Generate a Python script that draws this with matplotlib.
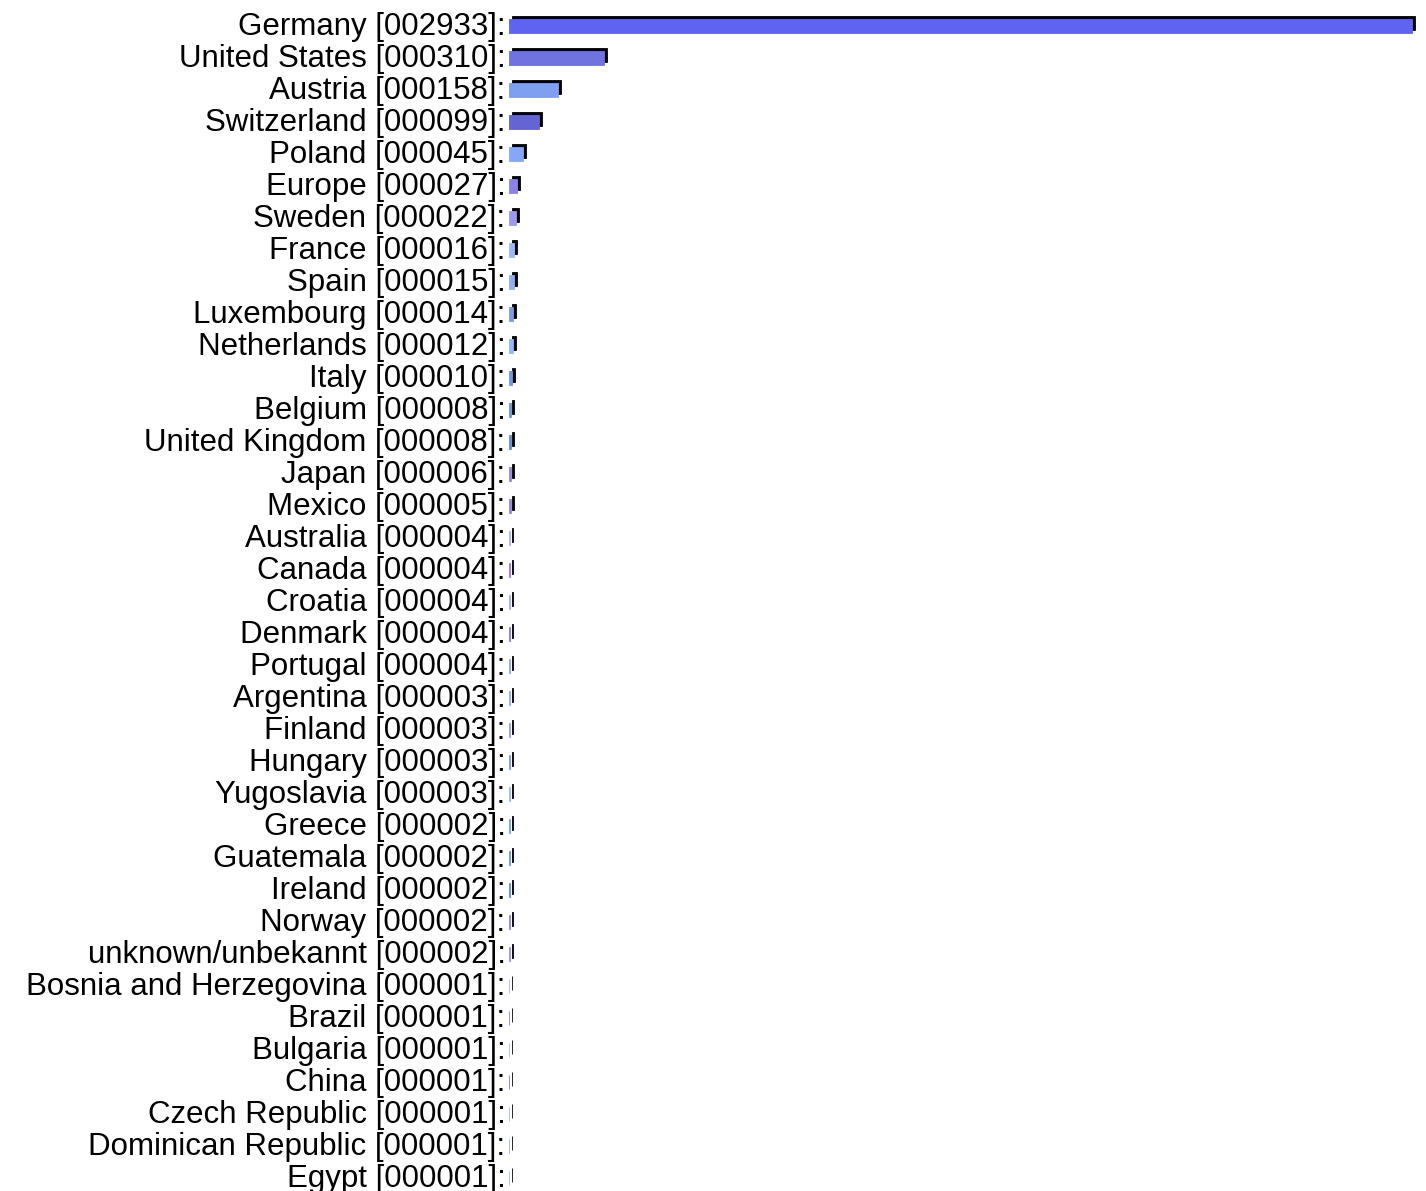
import numpy as np
import matplotlib
matplotlib.use("Agg")
import matplotlib.pyplot as plt
from matplotlib.transforms import ScaledTranslation

countries = ["Germany", "United States", "Austria", "Switzerland", "Poland", "Europe",
             "Sweden", "France", "Spain", "Luxembourg", "Netherlands", "Italy", "Belgium",
             "United Kingdom", "Japan", "Mexico", "Australia", "Canada", "Croatia", "Denmark",
             "Portugal", "Argentina", "Finland", "Hungary", "Yugoslavia", "Greece", "Guatemala",
             "Ireland", "Norway", "unknown/unbekannt", "Bosnia and Herzegovina", "Brazil",
             "Bulgaria", "China", "Czech Republic", "Dominican Republic", "Egypt"]
counts = [2933, 310, 158, 99, 45, 27, 22, 16, 15, 14, 12, 10, 8, 8, 6, 5, 4, 4, 4, 4, 4,
          3, 3, 3, 3, 2, 2, 2, 2, 2, 1, 1, 1, 1, 1, 1, 1]
colors = ["#5f64f0", "#6e73e0", "#7f9ff0", "#6464d2", "#86a6fa", "#8c82e6", "#9a9aee",
          "#9ab8f8", "#90aef0", "#7c9ae6", "#90b8fa", "#6e96e6", "#6e96dc", "#648cd2",
          "#9682e6", "#9682e6", "#a4b8fa", "#9678dc", "#a4aefa", "#8c78dc", "#90a4f0",
          "#90aef0", "#90a4e6", "#7c9adc", "#9ab8fa", "#78a0f0", "#6e96e6", "#648cdc",
          "#9086e6", "#9a90f0", "#aeaefa", "#907cdc", "#aeb8fa", "#8672dc", "#a4aef0",
          "#90aefa", "#9ab8f0"]

labels = [f"{c} [{n:06d}]:" for c, n in zip(countries, counts)]
y = np.arange(len(countries))

W, H, DPI = 1426, 1191, 100
fig = plt.figure(figsize=(W / DPI, H / DPI), dpi=DPI)
ax = fig.add_axes([509 / W, 0, (1413 - 509) / W, (1191 - 7) / H])

# black drop shadow, shifted 3px right and 3px up
shadow = ax.transData + ScaledTranslation(3 / DPI, 3 / DPI, fig.dpi_scale_trans)
bar_y = y + 0.09
ax.barh(bar_y, counts, height=0.45, color="black", edgecolor="black",
        linewidth=0.6, transform=shadow, clip_on=False)
ax.barh(bar_y, counts, height=0.45, color=colors, edgecolor=colors, linewidth=0.6)

ax.set_xlim(0, 2935)
ax.set_ylim(len(countries) - 0.5, -0.5)
ax.set_yticks(y)
ax.set_yticklabels(labels, family=["Liberation Sans", "DejaVu Sans"], fontsize=22.5)
ax.tick_params(axis="y", length=0, pad=2.5)
ax.set_xticks([])
for s in ax.spines.values():
    s.set_visible(False)

fig.savefig("out.png", dpi=DPI)
